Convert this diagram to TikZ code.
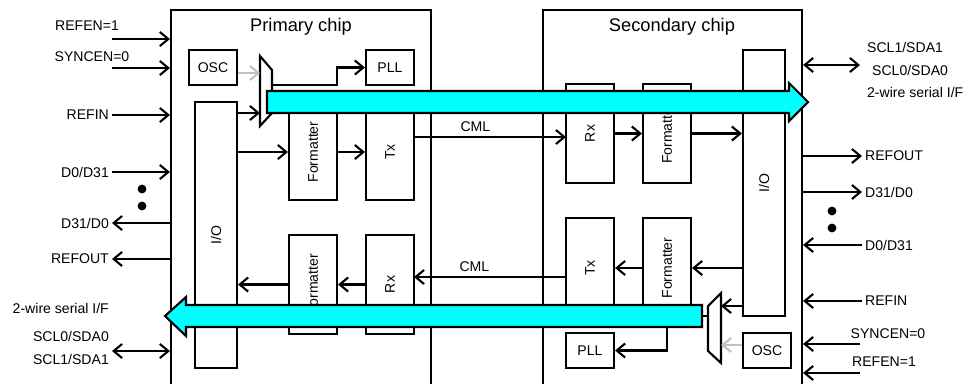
\documentclass[tikz,border=0pt]{standalone}
\usepackage{fontspec}
\setmainfont{Liberation Sans}
\usetikzlibrary{arrows.meta}
\definecolor{aqua}{RGB}{0,255,255}
\definecolor{osclink}{RGB}{192,192,192}
\newcommand{\vlab}[1]{\rotatebox{90}{#1}\hspace{10pt}}

\begin{document}
\begin{tikzpicture}[x=0.025cm, y=-0.025cm, line width=1.5pt,
  font=\fontsize{10}{12}\selectfont,
  >={Straight Barb[length=6pt,width=10pt]},
  blk/.style n args={2}{draw, inner sep=0pt, minimum width=#1*0.025cm, minimum height=#2*0.025cm},
  sig/.style={->},
  clk/.style={->, draw=osclink},
  band/.style={draw, fill=aqua},
  lbl/.style={inner sep=1.5pt}]
\useasboundingbox (0,0) rectangle (963,383);

% chips
\node[blk={260}{385}] (prim) at (301,202.5) {};
\node[blk={259}{385}] (sec) at (672.5,202.5) {};
\node (ttlA) at (301,27) {\fontsize{13}{15}\selectfont Primary chip};
\node (ttlB) at (672,27) {\fontsize{13}{15}\selectfont Secondary chip};

% primary chip blocks
\node[blk={48}{35}] (oscA) at (213,67.5) {OSC};
\node[blk={48}{35}] (pllA) at (390,67.5) {PLL};
\node[blk={42}{266}] (ioA) at (216,235) {\vlab{I/O}};
\node[blk={48}{96}] (fmtA) at (313,152) {\vlab{Formatter}};
\node[blk={48}{96}] (txA) at (390,152) {\vlab{Tx}};
\node[blk={48}{99}] (fmtB) at (313,284.5) {\vlab{Formatter}};
\node[blk={48}{99}] (rxA) at (390,284.5) {\vlab{Rx}};

% secondary chip blocks
\node[blk={48}{99}] (rxB) at (590,133.5) {\vlab{Rx}};
\node[blk={48}{99}] (fmtC) at (667,133.5) {\vlab{Formatter}};
\node[blk={48}{100}] (txB) at (590,268) {\vlab{Tx}};
\node[blk={48}{100}] (fmtD) at (667,268) {\vlab{Formatter}};
\node[blk={42}{266}] (ioB) at (764,183) {\vlab{I/O}};
\node[blk={48}{35}] (pllB) at (590,350.5) {PLL};
\node[blk={48}{35}] (oscB) at (767,350.5) {OSC};

% muxes
\draw (260,56) -- (272,70) -- (272,113) -- (260,126) -- cycle;
\draw (721,293) -- (708,306) -- (708,351) -- (721,363) -- cycle;
\coordinate (muxAosc) at (260,73);
\coordinate (muxAio) at (260,113);
\coordinate (muxAout) at (272,85);
\coordinate (kinkA) at (337,85);
\coordinate (muxBio) at (721,306);
\coordinate (muxBosc) at (721,345);
\coordinate (muxBout) at (708,316);
\coordinate (kinkB) at (667,316);

% clocks
\draw[clk] (oscA.east |- muxAosc) -- (muxAosc);
\draw[clk] (oscB.west |- muxBosc) -- (muxBosc);
\draw[sig] (ioA.east |- muxAio) -- (muxAio);
\draw[sig] (muxAout) -- (kinkA) |- (pllA.west);
\draw[sig] (ioB.west |- muxBio) -- (muxBio);
\draw[sig] (muxBout) -- (kinkB) |- (pllB.east);

% data paths
\coordinate (cmlA) at (566,137);
\coordinate (cmlB) at (414,277);
\draw[sig] (ioA.east |- fmtA.west) -- (fmtA.west);
\draw[sig] (fmtA) -- (txA);
\draw[sig] (txA.east |- cmlA) -- node[above, pos=.4] {CML} (cmlA);
\draw[sig] (rxB) -- (fmtC);
\draw[sig] (fmtC.east) -- (fmtC.east -| ioB.west);
\draw[sig] (ioB.west |- fmtD.east) -- (fmtD.east);
\draw[sig] (fmtD) -- (txB);
\draw[sig] (txB.west |- cmlB) -- node[above, pos=.6] {CML} (cmlB);
\draw[sig] (rxA) -- (fmtB);
\draw[sig] (fmtB.west) -- (fmtB.west -| ioA.east);

% 2-wire bands
\draw[band] (267,91) -- (789,91) -- (789,83) -- (808,102) -- (789,121) -- (789,113) -- (267,113) -- cycle;
\draw[band] (702,305) -- (186,305) -- (186,297) -- (165,316) -- (186,336) -- (186,327) -- (702,327) -- cycle;

% left side
\node[lbl] (refenA) at (87,26) {REFEN=1};
\node[lbl] (syncA) at (92,57) {SYNCEN=0};
\coordinate (refenAx) at (112,39);
\coordinate (syncAx) at (112,68);
\draw[sig] (refenAx) -- (refenAx -| prim.west);
\draw[sig] (syncAx) -- (syncAx -| prim.west);
\node[lbl, left] (refinA) at (112,115) {REFIN};
\draw[sig] (refinA.east) -- (refinA.east -| prim.west);
\node[lbl, left] (dinA) at (112,172) {D0/D31};
\draw[sig] (dinA.east) -- (dinA.east -| prim.west);
\fill (142,189) circle[radius=0.11cm];
\fill (142,206) circle[radius=0.11cm];
\node[lbl, left] (doutA) at (112,223) {D31/D0};
\draw[sig] (doutA.east -| prim.west) -- (doutA.east);
\node[lbl, left] (refoutA) at (112,259) {REFOUT};
\draw[sig] (refoutA.east -| prim.west) -- (refoutA.east);
\node[lbl, left] (twiA) at (112,308) {2-wire serial I/F};
\node[lbl, left] (sdaA0) at (112,336) {SCL0/SDA0};
\node[lbl, left] (sdaA1) at (112,359) {SCL1/SDA1};
\coordinate (sclA) at (112,351);
\draw[<->] (sclA) -- (sclA -| prim.west);

% right side
\coordinate (sclB) at (860,65);
\draw[<->] (sec.east |- sclB) -- (sclB);
\node[lbl, right] (sdaB1) at (864,47) {SCL1/SDA1};
\node[lbl, right] (sdaB0) at (869,70) {SCL0/SDA0};
\node[lbl, right] (twiB) at (864,92) {2-wire serial I/F};
\node[lbl, right] (refoutB) at (862,156) {REFOUT};
\draw[sig] (refoutB.west -| sec.east) -- (refoutB.west);
\node[lbl, right] (doutB) at (862,192) {D31/D0};
\draw[sig] (doutB.west -| sec.east) -- (doutB.west);
\fill (832,211) circle[radius=0.11cm];
\fill (832,228) circle[radius=0.11cm];
\node[lbl, right] (dinB) at (862,245) {D0/D31};
\draw[sig] (dinB.west) -- (dinB.west -| sec.east);
\node[lbl, right] (refinB) at (862,301) {REFIN};
\draw[sig] (refinB.west) -- (refinB.west -| sec.east);
\node[lbl] (syncB) at (888,334) {SYNCEN=0};
\node[lbl] (refenB) at (884,362) {REFEN=1};
\coordinate (syncBx) at (860,344);
\coordinate (refenBx) at (860,373);
\draw[sig] (syncBx) -- (syncBx -| sec.east);
\draw[sig] (refenBx) -- (refenBx -| sec.east);
\end{tikzpicture}
\end{document}
